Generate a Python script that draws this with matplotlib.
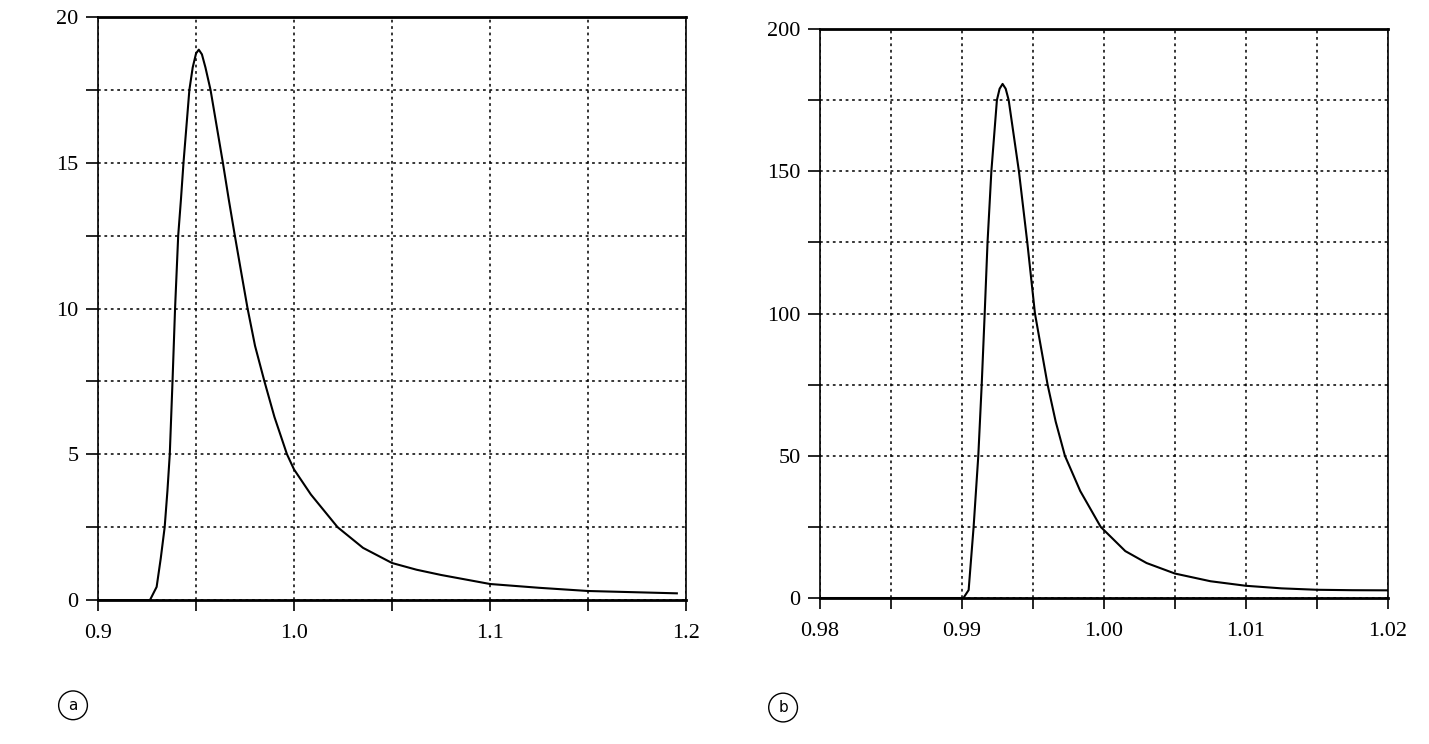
import numpy as np
import matplotlib.pyplot as plt
from matplotlib.ticker import MultipleLocator

# panel a: values
a_x = [0.900, 0.9265, 0.9299, 0.9320, 0.9340, 0.9354, 0.9366, 0.9380, 0.9393,
       0.9409, 0.9423, 0.9436, 0.9466, 0.9483, 0.9500, 0.9514, 0.9530, 0.9548,
       0.9574, 0.9637, 0.9667, 0.9698, 0.9729, 0.9763, 0.9801, 0.9849, 0.9900,
       0.9964, 1.0000, 1.0086, 1.0222, 1.0352, 1.0500, 1.0625, 1.0750, 1.1000,
       1.1250, 1.1500, 1.1953]
a_y = [0.0, 0.0, 0.45, 1.43, 2.5, 3.74, 5.0, 7.5, 10.0,
       12.5, 13.74, 15.0, 17.5, 18.27, 18.75, 18.88, 18.72, 18.27,
       17.5, 15.0, 13.74, 12.5, 11.3, 10.0, 8.72, 7.5, 6.28,
       5.0, 4.48, 3.62, 2.5, 1.79, 1.27, 1.04, 0.86, 0.55,
       0.42, 0.31, 0.23]

# panel b
b_x = [0.980, 0.9901, 0.99047, 0.99082, 0.99115, 0.99139, 0.9916, 0.9918,
       0.99207, 0.99246, 0.99265, 0.99286, 0.99308, 0.99329, 0.99401, 0.9946,
       0.99514, 0.99603, 0.9966, 0.99725, 0.99833, 0.99977, 1.0015, 1.0030,
       1.0050, 1.0075, 1.0100, 1.0125, 1.0150, 1.0175, 1.0200]
b_y = [0.0, 0.0, 2.8, 25.0, 50.0, 75.0, 100.0, 125.0,
       150.0, 175.0, 179.0, 180.7, 179.0, 175.0, 150.0, 125.0,
       100.0, 75.0, 62.0, 50.0, 37.6, 25.0, 16.5, 12.3,
       8.6, 5.9, 4.3, 3.4, 2.9, 2.75, 2.7]

a_xticks = [0.9, 1.0, 1.1, 1.2]
a_xlabels = ['0.9', '1.0', '1.1', '1.2']
a_yticks = [0, 5, 10, 15, 20]
b_xticks = [0.98, 0.99, 1.00, 1.01, 1.02]
b_xlabels = ['0.98', '0.99', '1.00', '1.01', '1.02']
b_yticks = [0, 50, 100, 150, 200]

plt.rcParams['font.family'] = ['Liberation Serif', 'DejaVu Serif']

fig = plt.figure(figsize=(14.29, 7.44), dpi=100)
ax1 = fig.add_axes([0.0686, 0.1935, 0.4115, 0.7836])
ax2 = fig.add_axes([0.5738, 0.1962, 0.3975, 0.7648])

dots = (0, (1.8, 2.4))


def style(ax, xlim, ylim, xticks, xlabels, yticks, xminor, yminor):
    ax.set_xlim(*xlim)
    ax.set_ylim(*ylim)
    ax.set_xticks(xticks)
    ax.set_xticklabels(xlabels)
    ax.set_yticks(yticks)
    ax.xaxis.set_minor_locator(MultipleLocator(xminor))
    ax.yaxis.set_minor_locator(MultipleLocator(yminor))
    ax.grid(True, which='both', color='black', linestyle=dots, linewidth=1.1)
    ax.tick_params(which='both', direction='out', length=9, width=1.2,
                   labelsize=16, pad=5)
    ax.tick_params(axis='x', which='both', length=8, pad=9)
    for s in ['top', 'bottom']:
        ax.spines[s].set_linewidth(2.0)
    for s in ['left', 'right']:
        ax.spines[s].set_linewidth(1.2)


ax1.plot(a_x, a_y, color='black', linewidth=1.5, zorder=3)
style(ax1, (0.9, 1.2), (0, 20), a_xticks, a_xlabels, a_yticks, 0.05, 2.5)

ax2.plot(b_x, b_y, color='black', linewidth=1.5, zorder=3)
style(ax2, (0.98, 1.02), (0, 200), b_xticks, b_xlabels, b_yticks, 0.005, 25)

# circled panel letters
for x, y, lab in [(0.0511, 0.052, 'a'), (0.548, 0.049, 'b')]:
    fig.text(x, y, lab, ha='center', va='center', fontsize=11,
             family='DejaVu Sans',
             bbox=dict(boxstyle='circle,pad=0.45', fc='white', ec='black', lw=1.0))

fig.savefig('out.png', dpi=100)
